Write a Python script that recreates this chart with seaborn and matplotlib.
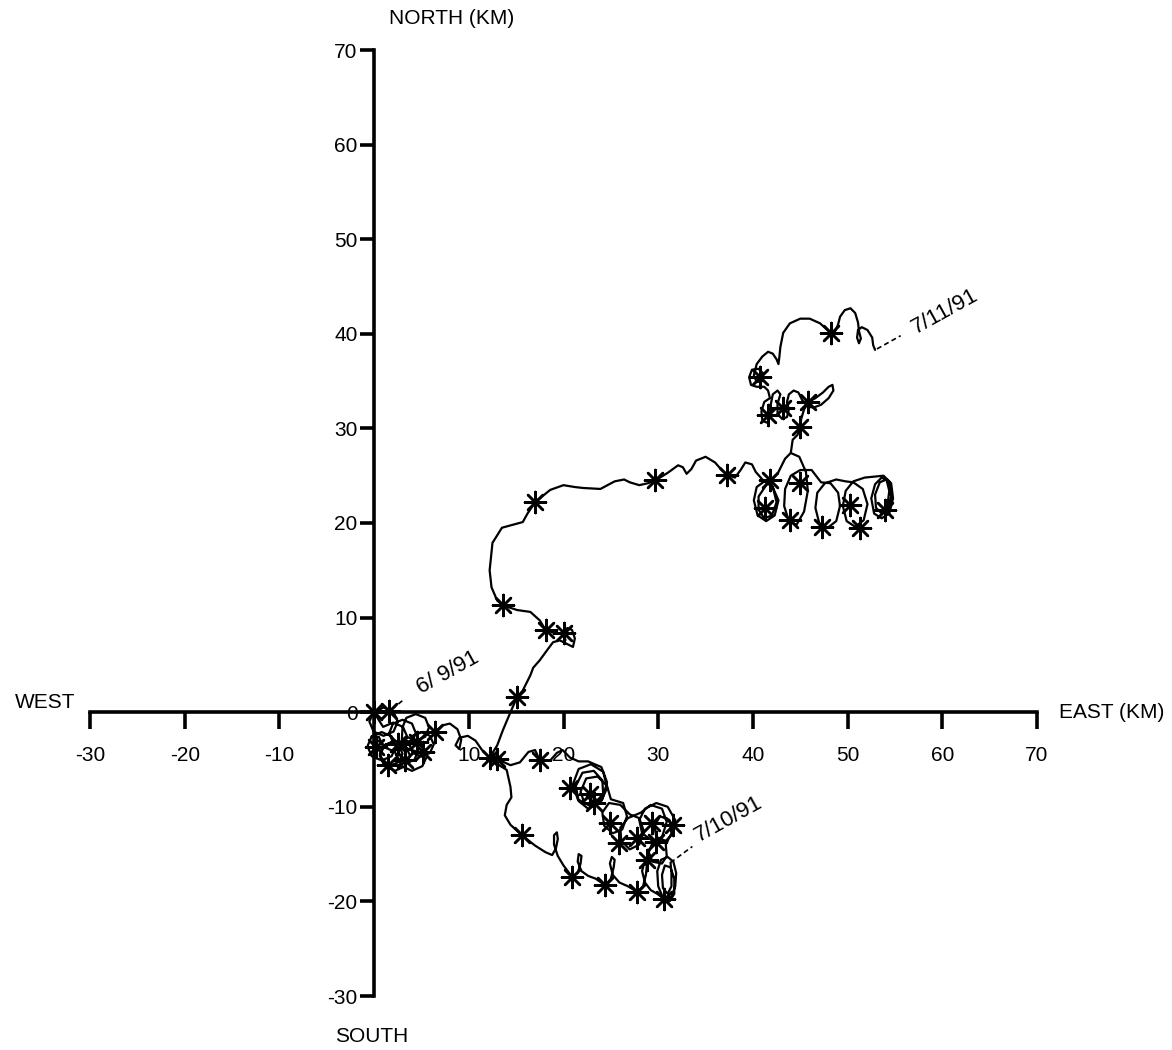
import matplotlib
matplotlib.use("Agg")
import matplotlib.pyplot as plt
import seaborn as sns
import numpy as np

# progressive vector track, (km east, km north) of the mooring
# track a: origin scribble -> east -> north -> lower NE loops
track_a = [
    (0.0, 0.0), (1.0, 0.5), (2.05, 0.05), (2.5, -1.0), (2.05, -2.05), (1.0, -2.5), (-0.05, -2.05),
    (-0.5, -1.0), (-0.05, 0.05),
    (0.95, -1.55), (2.0, -1.1), (3.05, -1.55), (3.5, -2.6), (3.05, -3.65), (2.0, -4.1), (0.95, -3.65),
    (0.5, -2.6),
    (-0.25, -2.55), (0.8, -2.1), (1.85, -2.55), (2.3, -3.6), (1.85, -4.65), (0.8, -5.1), (-0.25, -4.65),
    (-0.7, -3.6), (-0.25, -2.55),
    (1.1, -3.5), (2.2, -3.0), (3.3, -3.5), (3.8, -4.6), (3.3, -5.7), (2.2, -6.2), (1.1, -5.7),
    (0.6, -4.6), (1.1, -3.5),
    (2.0, -3.2), (1.6, -2.2), (2.0, -1.2), (3.0, -0.8), (4.0, -1.2), (4.4, -2.2), (4.0, -3.2), (3.0, -3.6),
    (2.9, -3.5), (4.0, -3.0), (5.1, -3.5), (5.6, -4.6), (5.1, -5.7), (4.0, -6.2), (2.9, -5.7),
    (2.4, -4.6), (2.9, -3.5),
    (3.0, -1.6), (3.4, -0.6), (4.4, -0.2), (5.4, -0.6), (5.8, -1.6), (5.4, -2.6), (4.4, -3.0), (3.4, -2.6),
    (2.65, -3.55), (3.0, -4.4), (2.65, -5.25), (1.8, -5.6), (0.95, -5.25), (0.6, -4.4), (0.95, -3.55),
    (1.8, -3.2), (2.65, -3.55),
    (4.6, -4.2), (4.25, -5.05), (3.4, -5.4), (2.55, -5.05), (2.2, -4.2), (2.55, -3.35), (3.4, -3.0),
    (4.25, -3.35),
    (3.7, -3.4), (4.1, -2.5), (5.0, -2.1), (5.9, -2.5), (6.3, -3.4), (5.9, -4.3), (5.0, -4.7),
    (4.1, -4.3), (3.7, -3.4), (4.1, -2.5), (5.0, -2.1), (6.4, -2.1),
    (7.2, -1.4), (8.0, -1.2), (8.8, -1.8), (9.2, -2.9), (9.0, -3.9), (8.6, -3.5), (9.0, -2.7),
    (9.9, -2.5), (10.7, -3.0), (11.4, -4.0), (12.2, -4.8),
    (13.0, -3.5), (13.6, -1.9), (14.4, 0.0), (15.1, 1.6), (15.7, 2.3), (16.5, 3.9), (16.8, 4.7),
    (17.5, 5.5), (18.3, 6.6), (18.9, 7.4), (19.6, 7.6), (20.4, 7.2), (21.0, 6.9), (21.2, 7.8),
    (20.9, 8.7), (20.4, 8.9), (20.1, 8.1), (20.2, 7.6), (19.8, 8.3), (19.0, 8.4), (18.1, 8.7),
    (17.5, 9.7), (16.5, 10.6), (15.1, 10.8), (13.6, 11.3), (13.0, 11.8), (12.4, 13.2), (12.2, 15.0),
    (12.5, 17.9), (13.5, 19.5), (14.6, 19.8), (15.7, 20.1), (16.2, 21.0), (17.0, 22.2), (18.6, 23.5),
    (20.0, 24.0), (21.2, 23.8), (22.1, 23.7), (23.9, 23.6), (25.4, 24.4), (26.4, 24.6), (27.0, 24.3),
    (28.0, 24.0), (28.9, 24.2), (29.7, 24.5), (31.0, 25.3), (32.1, 26.1), (32.6, 25.9), (33.0, 25.2),
    (33.5, 25.7), (34.0, 26.6), (35.0, 27.0), (36.0, 26.4), (36.7, 25.6), (37.3, 25.1), (38.1, 24.8),
    (38.7, 25.6), (39.2, 26.4), (39.9, 26.2), (40.3, 25.4),
    (41.0, 24.6), (42.0, 24.0), (42.7, 22.4), (42.3, 20.8), (41.4, 20.2), (40.5, 20.8), (40.1, 22.4),
    (40.4, 23.8), (41.2, 24.4), (42.1, 23.8), (42.5, 22.2), (42.0, 20.8), (41.2, 20.5), (40.6, 21.4),
    (40.6, 22.8), (41.4, 24.0), (42.6, 25.2), (43.4, 26.8),
    (44.0, 27.4), (44.9, 27.0), (45.6, 25.4), (45.8, 23.4), (45.4, 21.2), (44.6, 19.8), (43.8, 20.2),
    (43.3, 21.8), (43.4, 23.6), (44.0, 25.0), (45.0, 25.6), (46.2, 25.6),
    (47.2, 24.3), (48.2, 24.2), (49.0, 23.2), (49.2, 21.8), (48.8, 20.2), (47.9, 19.5), (47.0, 20.0),
    (46.6, 21.6), (46.8, 23.2), (47.6, 24.2), (48.8, 24.6), (49.8, 24.4),
    (50.6, 24.3), (51.6, 23.6), (52.1, 22.0), (51.7, 20.3), (50.8, 19.6), (49.9, 20.2), (49.5, 21.8),
    (49.8, 23.4), (50.6, 24.4), (51.8, 24.8), (52.8, 24.9),
    (53.8, 25.0), (54.6, 24.2), (54.8, 22.6), (54.4, 21.0), (53.6, 20.5), (52.8, 21.0), (52.5, 22.6),
    (52.9, 24.1), (53.6, 24.8), (54.4, 24.4), (54.6, 22.8), (54.3, 21.4), (53.6, 21.0), (53.0, 21.6),
    (52.9, 23.0), (53.4, 24.3), (54.1, 24.6), (54.4, 23.4), (54.2, 21.8), (54.0, 21.4),
]

# track b: branch up into the upper NE loops, ends 7/11/91
track_b = [
    (44.0, 27.4), (44.2, 28.8), (44.7, 29.3), (45.0, 30.1), (45.1, 31.0), (45.4, 32.0), (45.9, 32.8),
    (46.6, 33.2), (47.4, 33.8), (48.0, 34.4), (48.4, 34.6), (48.5, 34.0), (48.0, 33.2), (47.2, 32.5),
    (46.4, 32.2), (45.8, 32.3), (45.2, 33.0), (44.8, 33.8), (44.3, 34.0), (43.8, 33.6), (43.6, 32.8),
    (43.8, 32.0), (43.6, 31.2), (43.1, 31.0), (42.6, 31.5), (42.6, 32.6), (42.9, 33.6), (42.6, 34.0),
    (42.1, 33.6), (41.9, 32.6), (41.9, 31.4), (41.5, 30.6), (41.0, 30.8), (40.9, 31.8), (41.2, 32.8),
    (41.8, 33.2), (41.6, 34.0), (41.2, 34.4), (40.4, 34.4), (39.8, 34.6), (39.6, 35.4), (39.9, 36.2),
    (40.6, 36.3), (41.1, 35.8), (41.0, 35.0), (40.4, 34.9), (40.1, 35.6), (40.4, 36.8), (41.0, 37.6),
    (41.6, 38.1), (42.1, 37.9), (42.5, 37.3), (42.7, 36.8), (42.8, 37.6), (42.9, 38.6), (43.2, 40.1),
    (43.9, 41.1), (45.0, 41.6), (46.0, 41.6), (47.1, 41.1), (48.2, 40.1), (48.7, 40.3), (49.0, 41.0),
    (49.2, 41.8), (49.7, 42.5), (50.3, 42.7), (50.8, 42.2), (51.1, 41.2), (51.2, 40.3), (51.4, 39.5),
    (51.2, 39.0), (51.0, 39.6), (51.1, 40.4), (51.5, 40.7), (52.1, 40.4), (52.6, 39.6), (52.7, 38.8),
    (52.9, 38.3),
]

# track c: east along -5 km into the SE knot of loops
track_c = [
    (12.2, -4.8), (13.3, -5.1), (14.4, -5.6), (15.4, -5.3), (16.3, -4.2), (17.0, -4.0), (17.5, -5.1),
    (18.6, -5.1), (19.3, -4.3), (19.9, -4.0), (20.7, -4.8), (21.6, -5.2),
    (22.6, -5.2), (24.0, -5.8), (24.6, -7.4), (24.1, -9.2), (22.8, -9.9), (21.5, -9.2), (21.0, -7.6),
    (21.6, -6.0), (22.9, -5.5), (24.2, -6.3), (24.6, -8.0), (23.9, -9.6), (22.6, -10.2), (21.6, -9.4),
    (21.3, -7.8), (22.0, -6.4), (23.2, -6.2), (24.1, -7.2), (24.2, -8.8), (23.4, -9.8), (22.2, -9.6),
    (21.8, -8.4), (22.4, -7.0), (23.6, -6.8), (24.6, -7.8), (25.0, -9.2),
    (26.3, -9.6), (26.7, -11.0), (26.2, -12.4), (25.2, -12.8), (24.3, -12.0), (24.1, -10.6),
    (24.8, -9.6), (26.0, -9.8),
    (27.0, -10.8), (28.0, -11.2), (28.5, -12.6), (28.0, -14.0), (27.0, -14.5), (26.1, -13.6),
    (26.0, -12.2), (26.8, -11.2), (28.2, -10.6),
    (29.2, -9.8), (30.4, -10.2), (30.9, -11.6), (30.4, -13.2), (29.4, -13.6), (28.3, -12.8),
    (28.0, -11.4), (28.6, -10.2), (29.8, -9.6), (31.0, -10.0), (31.8, -11.4), (31.6, -12.8),
    (30.8, -13.6), (29.8, -13.2), (29.6, -12.0), (30.2, -11.0), (31.2, -11.4), (31.4, -12.8),
    (30.8, -14.0),
    (30.9, -15.2), (30.4, -16.0), (29.4, -15.8), (29.0, -14.8), (29.4, -13.8), (30.4, -13.6),
]

# track d: southern branch, ends 7/10/91
track_d = [
    (12.2, -4.8), (13.2, -5.6), (14.0, -6.1), (14.4, -7.9), (14.5, -9.0), (14.0, -9.8), (13.8, -10.9),
    (14.4, -11.9), (15.6, -13.0), (17.0, -14.1), (18.1, -14.8), (18.8, -15.1), (19.2, -14.4),
    (19.4, -13.4), (19.3, -12.7), (19.0, -13.0), (19.0, -14.0), (19.4, -15.2), (20.0, -16.2),
    (20.9, -17.4), (21.5, -17.0), (21.8, -16.0), (21.9, -15.2), (21.6, -15.0), (21.5, -15.8),
    (21.9, -16.8), (22.6, -17.3), (23.4, -17.6), (24.4, -18.3), (25.0, -17.6), (25.3, -16.4),
    (25.4, -15.6), (25.1, -15.3), (24.9, -16.0), (25.2, -17.2), (25.9, -18.0), (26.8, -18.4),
    (27.8, -19.0), (28.4, -18.4), (28.7, -17.2), (28.8, -16.2), (28.5, -16.0), (28.3, -16.8),
    (28.6, -18.0), (29.2, -18.8), (29.9, -19.2), (30.6, -19.7), (31.4, -19.5), (31.8, -18.4),
    (31.9, -17.0), (31.6, -15.8), (31.0, -15.3), (30.3, -15.6), (29.9, -16.8), (30.0, -18.4),
    (30.5, -19.6), (31.2, -20.0), (31.7, -19.2), (31.7, -17.6), (31.3, -16.4), (30.7, -16.2),
    (30.4, -17.2), (30.5, -18.6), (31.0, -19.2), (31.4, -18.4), (31.4, -17.0), (31.3, -15.9),
]

# daily marks (asterisks)
star_x = [0.0, 1.6, 0.2, 2.5, 1.5, 3.3, 4.5, 5.2, 6.4,
          12.2, 13.0, 15.1, 18.1, 20.0, 13.6, 17.0, 29.7, 37.3,
          41.8, 45.0, 41.3, 43.9, 47.3, 50.3, 51.3, 54.0,
          48.2, 40.8, 41.6, 43.2, 45.8, 45.0,
          17.5, 20.7, 22.8, 23.2, 24.9, 25.9, 27.8, 28.8, 29.3, 29.8, 31.6,
          15.6, 20.9, 24.4, 27.8, 30.6]
star_y = [0.0, 0.1, -3.7, -3.4, -5.6, -5.1, -3.2, -4.2, -2.1,
          -4.8, -4.9, 1.6, 8.7, 8.4, 11.3, 22.2, 24.5, 25.1,
          24.5, 24.2, 21.6, 20.3, 19.6, 21.9, 19.5, 21.4,
          40.1, 35.4, 31.4, 32.2, 32.8, 30.1,
          -5.1, -8.0, -8.6, -9.6, -11.7, -13.8, -13.3, -15.6, -11.7, -13.7, -11.9,
          -13.0, -17.4, -18.3, -19.0, -19.7]

x_ticks = [-30, -20, -10, 10, 20, 30, 40, 50, 60, 70]
y_ticks = [-30, -20, -10, 0, 10, 20, 30, 40, 50, 60, 70]

sns.set_style("white")
plt.rcParams['font.family'] = ['Liberation Sans', 'DejaVu Sans']
plt.rcParams['text.color'] = 'black'
plt.rcParams['xtick.color'] = 'black'
plt.rcParams['ytick.color'] = 'black'
plt.rcParams['axes.labelcolor'] = 'black'

fig = plt.figure(figsize=(11.72, 10.5), dpi=100)
ax = fig.add_axes([90 / 1172, 54 / 1050, 947 / 1172, 946 / 1050])

for track in [track_a, track_b, track_c, track_d]:
    pts = np.array(track)
    sns.lineplot(x=pts[:, 0], y=pts[:, 1], sort=False, estimator=None,
                 color='black', linewidth=1.6, ax=ax)

ax.scatter(star_x, star_y, marker=(8, 2, 0), s=230, color='black', linewidths=1.8, zorder=3)

ax.set_xlim(-30, 70)
ax.set_ylim(-30, 70)

# axes cross at the origin
for side in ['top', 'right']:
    ax.spines[side].set_visible(False)
for side in ['left', 'bottom']:
    ax.spines[side].set_position(('data', 0))
    ax.spines[side].set_linewidth(2.6)
    ax.spines[side].set_color('black')

ax.set_xticks(x_ticks)
ax.set_xticklabels([str(t) for t in x_ticks])
ax.set_yticks(y_ticks)
ax.set_yticklabels([str(t) for t in y_ticks])
ax.tick_params(axis='x', direction='out', length=12, width=2.6, labelsize=15, pad=12,
               bottom=True, colors='black')
ax.tick_params(axis='y', direction='out', length=10, width=2.6, labelsize=15, pad=2,
               left=True, colors='black')

# date labels with dashed leaders
ax.plot([1.9, 3.2], [0.3, 1.4], color='black', lw=1.2, ls=(0, (3, 2)))
ax.text(7.8, 4.2, '6/ 9/91', fontsize=16, rotation=29, ha='center', va='center',
        rotation_mode='anchor')
ax.plot([31.3, 33.6], [-15.9, -14.2], color='black', lw=1.2, ls=(0, (3, 2)))
ax.text(37.4, -11.3, '7/10/91', fontsize=16, rotation=29, ha='center', va='center',
        rotation_mode='anchor')
ax.plot([53.1, 55.6], [38.4, 39.8], color='black', lw=1.2, ls=(0, (3, 2)))
ax.text(60.3, 42.4, '7/11/91', fontsize=16, rotation=29, ha='center', va='center',
        rotation_mode='anchor')

# compass labels
fig.text(452 / 1172, 1 - 18 / 1050, 'NORTH (KM)', fontsize=15, ha='center', va='center')
fig.text(372 / 1172, 1 - 1036 / 1050, 'SOUTH', fontsize=15, ha='center', va='center')
fig.text(45 / 1172, 1 - 703 / 1050, 'WEST', fontsize=15, ha='center', va='center')
fig.text(1112 / 1172, 1 - 713 / 1050, 'EAST (KM)', fontsize=15, ha='center', va='center')

fig.savefig('out.png', dpi=100, facecolor='white')
